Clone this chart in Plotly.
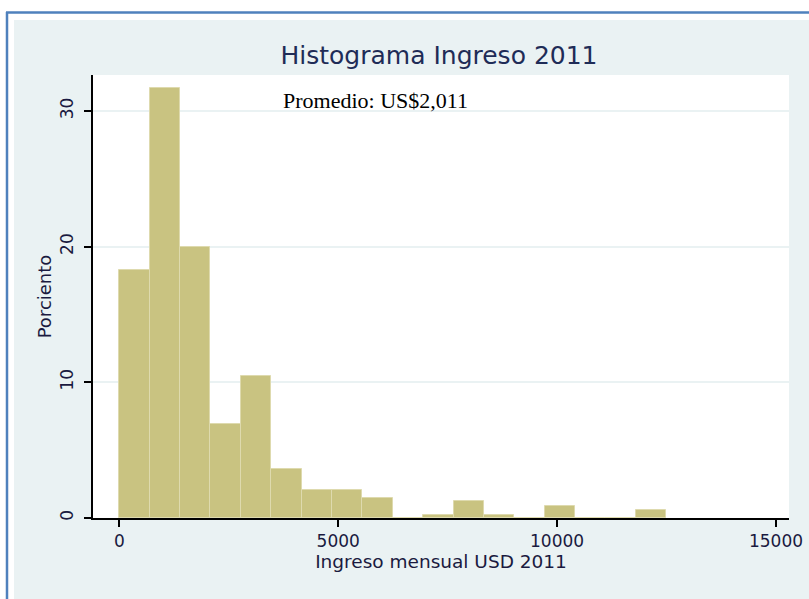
import numpy as np
import plotly.graph_objects as go

# Porcentaje por intervalo de ingreso (18 barras del histograma)
bin_start = 0
bin_width = 694
percent = [18.3, 31.7, 20.0, 6.9, 10.5, 3.6, 2.1, 2.1, 1.5, 0.0,
           0.25, 1.25, 0.25, 0.0, 0.9, 0.0, 0.0, 0.57]
x_ticks = [0, 5000, 10000, 15000]
x_labels = ["0", "5000", "10000", "15000"]
y_ticks = [0, 10, 20, 30]

title_text = "Histograma Ingreso 2011"
note_text = "Promedio: US$2,011"

centers = bin_start + bin_width * (np.arange(len(percent)) + 0.5)

# plot area in pixels (for the frame shapes)
W, H = 809, 599
L, R, T, B = 93, 20, 75, 81
pw, ph = W - L - R, H - T - B


def px(x):
    return (x - L) / pw


def py(y):
    return (H - B - y) / ph


fig = go.Figure(go.Bar(
    x=centers,
    y=percent,
    width=bin_width,
    marker={"color": "#C9C381", "line": {"color": "#DEDAAE", "width": 1}},
    hoverinfo="x+y",
))

font = "DejaVu Sans, Arial, sans-serif"
ink = "#1a1a40"

fig.update_layout(
    width=W, height=H,
    margin={"l": L, "r": R, "t": T, "b": B, "autoexpand": False},
    paper_bgcolor="#EAF2F3",
    plot_bgcolor="white",
    showlegend=False,
    bargap=0,
    title={"text": title_text, "x": 439 / W, "xanchor": "center",
           "y": 1 - 55 / H, "yanchor": "middle",
           "font": {"family": font, "size": 25, "color": "#1F2C57"}},
    xaxis={
        "range": [-601, 15297], "tickvals": x_ticks, "ticktext": x_labels, "showgrid": False,
        "zeroline": False, "showline": True, "linecolor": "black", "linewidth": 1.5,
        "ticks": "outside", "ticklen": 7, "tickcolor": "black", "tickwidth": 1.5,
        "tickfont": {"family": font, "size": 17, "color": ink},
        "title": {"text": "Ingreso mensual USD 2011", "standoff": 2,
                  "font": {"family": font, "size": 18.5, "color": ink}},
    },
    yaxis={
        "range": [0, 32.65], "tickvals": y_ticks, "tickangle": -90,
        "showgrid": True, "gridcolor": "#EAF2F3", "gridwidth": 1.5,
        "zeroline": False, "showline": True, "linecolor": "black", "linewidth": 1.5,
        "ticks": "outside", "ticklen": 7, "tickcolor": "black", "tickwidth": 1.5,
        "ticklabelstandoff": 4,
        "tickfont": {"family": font, "size": 17, "color": ink},
        "title": {"text": "Porciento", "standoff": 1,
                  "font": {"family": font, "size": 18, "color": ink}},
    },
    annotations=[{
        "text": note_text, "xref": "paper", "yref": "paper",
        "x": px(281), "y": py(100), "xanchor": "left", "yanchor": "middle",
        "showarrow": False,
        "font": {"family": "Liberation Serif, Times New Roman, serif", "size": 22, "color": "black"},
    }],
    shapes=[
        # white margin strips round the grey frame
        {"type": "rect", "xref": "paper", "yref": "paper", "x0": px(0), "x1": px(14),
         "y0": py(H), "y1": py(0), "fillcolor": "white", "line": {"width": 0}},
        {"type": "rect", "xref": "paper", "yref": "paper", "x0": px(0), "x1": px(W),
         "y0": py(20), "y1": py(0), "fillcolor": "white", "line": {"width": 0}},
        # blue border
        {"type": "line", "xref": "paper", "yref": "paper", "x0": px(7), "x1": px(7),
         "y0": py(12), "y1": py(H), "line": {"color": "#4F81BD", "width": 2.5}},
        {"type": "line", "xref": "paper", "yref": "paper", "x0": px(6), "x1": px(W),
         "y0": py(12.5), "y1": py(12.5), "line": {"color": "#4F81BD", "width": 2.5}},
    ],
)

# the page body has a default 8px margin; drop it so the figure fills the window
fig.write_html("out.html", config={"displayModeBar": False},
               post_script="document.body.style.margin='0';")
